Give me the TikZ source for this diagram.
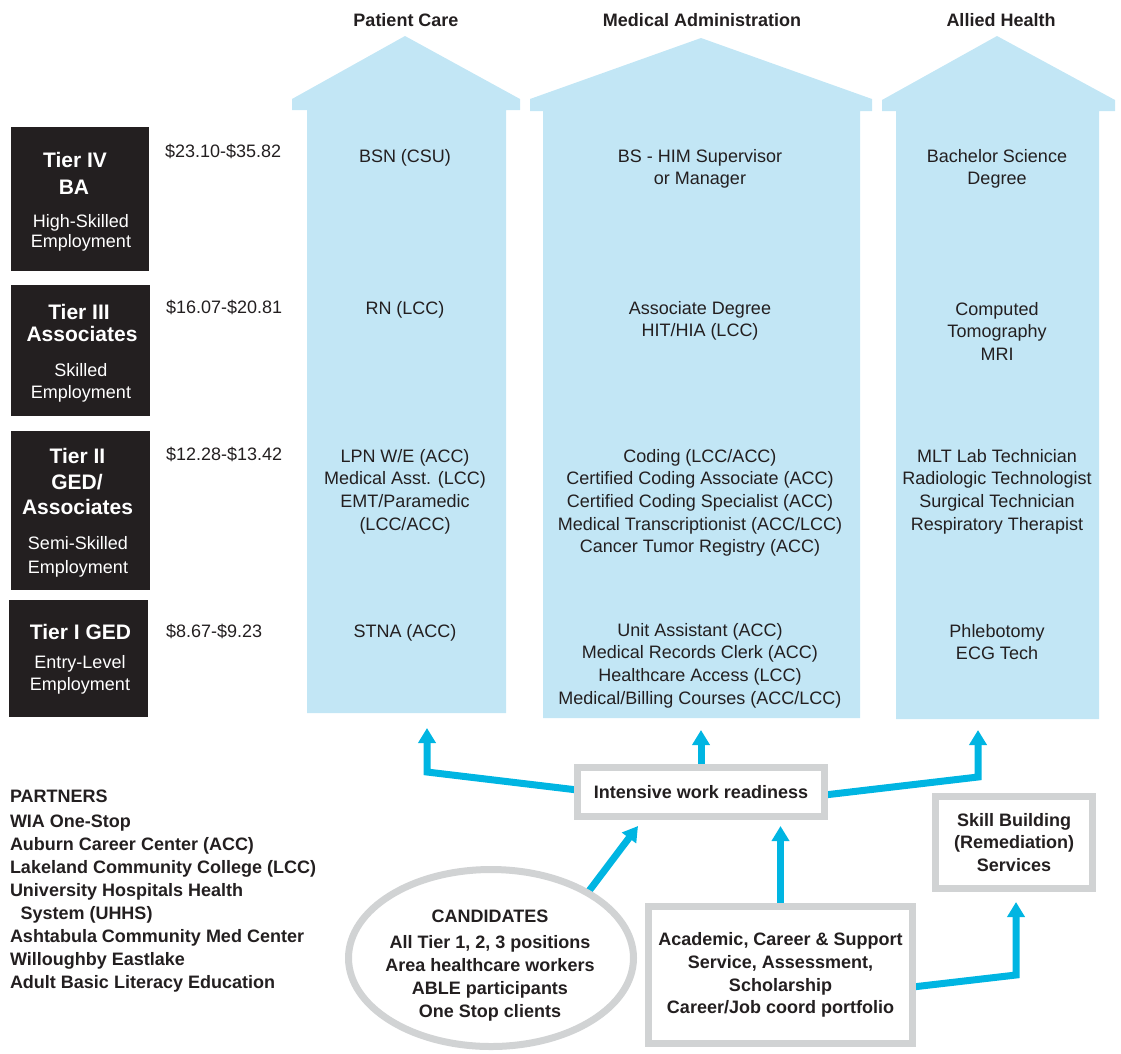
\documentclass[tikz,border=0pt]{standalone}
\usepackage{fontspec}
\setmainfont{Liberation Sans}
\usetikzlibrary{arrows.meta,shapes.geometric,backgrounds}
\definecolor{roofblue}{RGB}{194,230,245}
\definecolor{tierblack}{RGB}{35,31,32}
\definecolor{ink}{RGB}{35,31,32}
\definecolor{framegray}{RGB}{209,211,212}
\definecolor{flowblue}{RGB}{0,181,226}
\begin{document}
\begin{tikzpicture}[x=1pt,y=-1pt,
  every node/.style={inner sep=0pt,outer sep=0pt},
  house/.style={fill=roofblue,draw=none},
  tierbox/.style={fill=tierblack,draw=none,anchor=north west},
  tierhead/.style={font=\fontsize{21}{24}\selectfont\bfseries,text=white,anchor=base},
  tiersub/.style={font=\fontsize{18}{21}\selectfont,text=white,anchor=base},
  wage/.style={font=\fontsize{18}{22}\selectfont,text=ink,anchor=base west},
  header/.style={font=\fontsize{18}{22}\selectfont\bfseries,text=ink,anchor=base},
  coltext/.style={font=\fontsize{18}{22.7}\selectfont,text=ink,align=center,anchor=base},
  framebox/.style={draw=framegray,line width=7pt,fill=white,align=center,
    font=\fontsize{18}{22.7}\selectfont\bfseries,text=ink},
  candtext/.style={font=\fontsize{18}{23}\selectfont\bfseries,text=ink,align=center,anchor=base},
  partnertext/.style={font=\fontsize{18}{23}\selectfont\bfseries,text=ink,align=left,anchor=base west},
  flow/.style={draw=flowblue,line width=7pt,line join=miter,-{Triangle[width=17pt,length=15pt]}}
]
\useasboundingbox (0,0) rectangle (1121,1053);

% headers
\node[header] (hpc) at (406,26) {Patient Care};
\node[header] (hma) at (702,26) {Medical Administration};
\node[header] (hah) at (1001,26) {Allied Health};

% tier boxes
\node[tierbox,minimum width=138pt,minimum height=144pt] (t4) at (11,127) {};
\node[tierbox,minimum width=139pt,minimum height=131pt] (t3) at (11,285) {};
\node[tierbox,minimum width=139pt,minimum height=159pt] (t2) at (11,431) {};
\node[tierbox,minimum width=139pt,minimum height=117pt] (t1) at (9,600) {};

\node[tierhead] (t4a) at (75,167) {Tier IV};
\node[tierhead] (t4b) at (74,194) {BA};
\node[tiersub] (t4c) at (81,227) {High-Skilled};
\node[tiersub] (t4d) at (81,247) {Employment};

\node[tierhead] (t3a) at (79,319) {Tier III};
\node[tierhead] (t3b) at (82,341) {Associates};
\node[tiersub] (t3c) at (81,376) {Skilled};
\node[tiersub] (t3d) at (81,398) {Employment};

\node[tierhead] (t2a) at (77.5,463) {Tier II};
\node[tierhead] (t2b) at (77,489) {GED/};
\node[tierhead] (t2c) at (77.5,514) {Associates};
\node[tiersub] (t2d) at (78,549) {Semi-Skilled};
\node[tiersub] (t2e) at (78,573) {Employment};

\node[tierhead] (t1a) at (80.5,639) {Tier I GED};
\node[tiersub] (t1b) at (80,668) {Entry-Level};
\node[tiersub] (t1c) at (80,690) {Employment};

% wages
\node[wage] (w4) at (165,157) {\$23.10-\$35.82};
\node[wage] (w3) at (166,313) {\$16.07-\$20.81};
\node[wage] (w2) at (166,460) {\$12.28-\$13.42};
\node[wage] (w1) at (166,637) {\$8.67-\$9.23};

% patient care column (anchor = baseline of last line)
\node[coltext] (pc4) at (405,162) {BSN (CSU)};
\node[coltext] (pc3) at (405,314) {RN (LCC)};
\node[coltext] (pc2) at (405,530.1) {LPN W/E (ACC)\\Medical Asst. (LCC)\\EMT/Paramedic\\(LCC/ACC)};
\node[coltext] (pc1) at (405,637) {STNA (ACC)};

% medical administration column
\node[coltext] (ma4) at (700,184.7) {BS - HIM Supervisor\\or Manager};
\node[coltext] (ma3) at (700,336.7) {Associate Degree\\HIT/HIA (LCC)};
\node[coltext] (ma2) at (700,552.8) {Coding (LCC/ACC)\\Certified Coding Associate (ACC)\\Certified Coding Specialist (ACC)\\Medical Transcriptionist (ACC/LCC)\\Cancer Tumor Registry (ACC)};
\node[coltext] (ma1) at (700,704.1) {Unit Assistant (ACC)\\Medical Records Clerk (ACC)\\Healthcare Access (LCC)\\Medical/Billing Courses (ACC/LCC)};

% allied health column
\node[coltext] (ah4) at (997,184.7) {Bachelor Science\\Degree};
\node[coltext] (ah3) at (997,360.4) {Computed\\Tomography\\MRI};
\node[coltext] (ah2) at (997,530.1) {MLT Lab Technician\\Radiologic Technologist\\Surgical Technician\\Respiratory Therapist};
\node[coltext] (ah1) at (997,659.7) {Phlebotomy\\ECG Tech};

% lower boxes
\node[framebox,minimum width=247pt,minimum height=49pt] (iwr) at (701,792) {Intensive work readiness};
\node[framebox,minimum width=157pt,minimum height=92pt] (skill) at (1014,842.5) {Skill Building\\(Remediation)\\Services};
\node[framebox,minimum width=264pt,minimum height=137pt] (acad) at (780.5,975) {Academic, Career \& Support\\Service, Assessment,\\Scholarship\\Career/Job coord portfolio};
\node[draw=framegray,line width=7pt,fill=white,ellipse,minimum width=285pt,minimum height=177pt] (cand) at (491,958) {};
\node[candtext] (candt) at (490,1017) {CANDIDATES\\[3pt]All Tier 1, 2, 3 positions\\Area healthcare workers\\ABLE participants\\One Stop clients};

% partners
\node[partnertext] (partners) at (10,988) {PARTNERS\\[2pt]WIA One-Stop\\Auburn Career Center (ACC)\\Lakeland Community College (LCC)\\University Hospitals Health\\\hspace*{10.5pt}System (UHHS)\\Ashtabula Community Med Center\\Willoughby Eastlake\\Adult Basic Literacy Education};

% connector points
\coordinate (pcturn) at (427,772);
\coordinate (pctip) at (427,728);
\coordinate (matip) at (701,730);
\coordinate (ahturn) at (978,777);
\coordinate (ahtip) at (978,730);
\coordinate (ctip) at (638,826);
\coordinate (atip) at (780.5,826);
\coordinate (skturn) at (1016,975);
\coordinate (sktip) at (1016,902);

\begin{scope}[on background layer]
  \path[house] (307,713) -- (307,110) -- (292,110) -- (292,99) -- (405,36) -- (520,99) -- (520,110) -- (506,110) -- (506,713) -- cycle;
  \path[house] (543,718) -- (543,111) -- (530,111) -- (530,99) -- (701,38) -- (872,99) -- (872,111) -- (860,111) -- (860,718) -- cycle;
  \path[house] (896,719) -- (896,111) -- (882,111) -- (882,100) -- (997,36) -- (1115,100) -- (1115,111) -- (1099,111) -- (1099,719) -- cycle;
  \draw[flow] ([yshift=2pt]iwr.west) -- (pcturn) -- (pctip);
  \draw[flow] (iwr.north) -- (matip);
  \draw[flow] ([yshift=-3pt]iwr.east) -- (ahturn) -- (ahtip);
  \draw[flow] (cand.34) -- (ctip);
  \draw[flow] (acad.north) -- (atip);
  \draw[flow] ([yshift=-12pt]acad.east) -- (skturn) -- (sktip);
\end{scope}
\end{tikzpicture}
\end{document}
